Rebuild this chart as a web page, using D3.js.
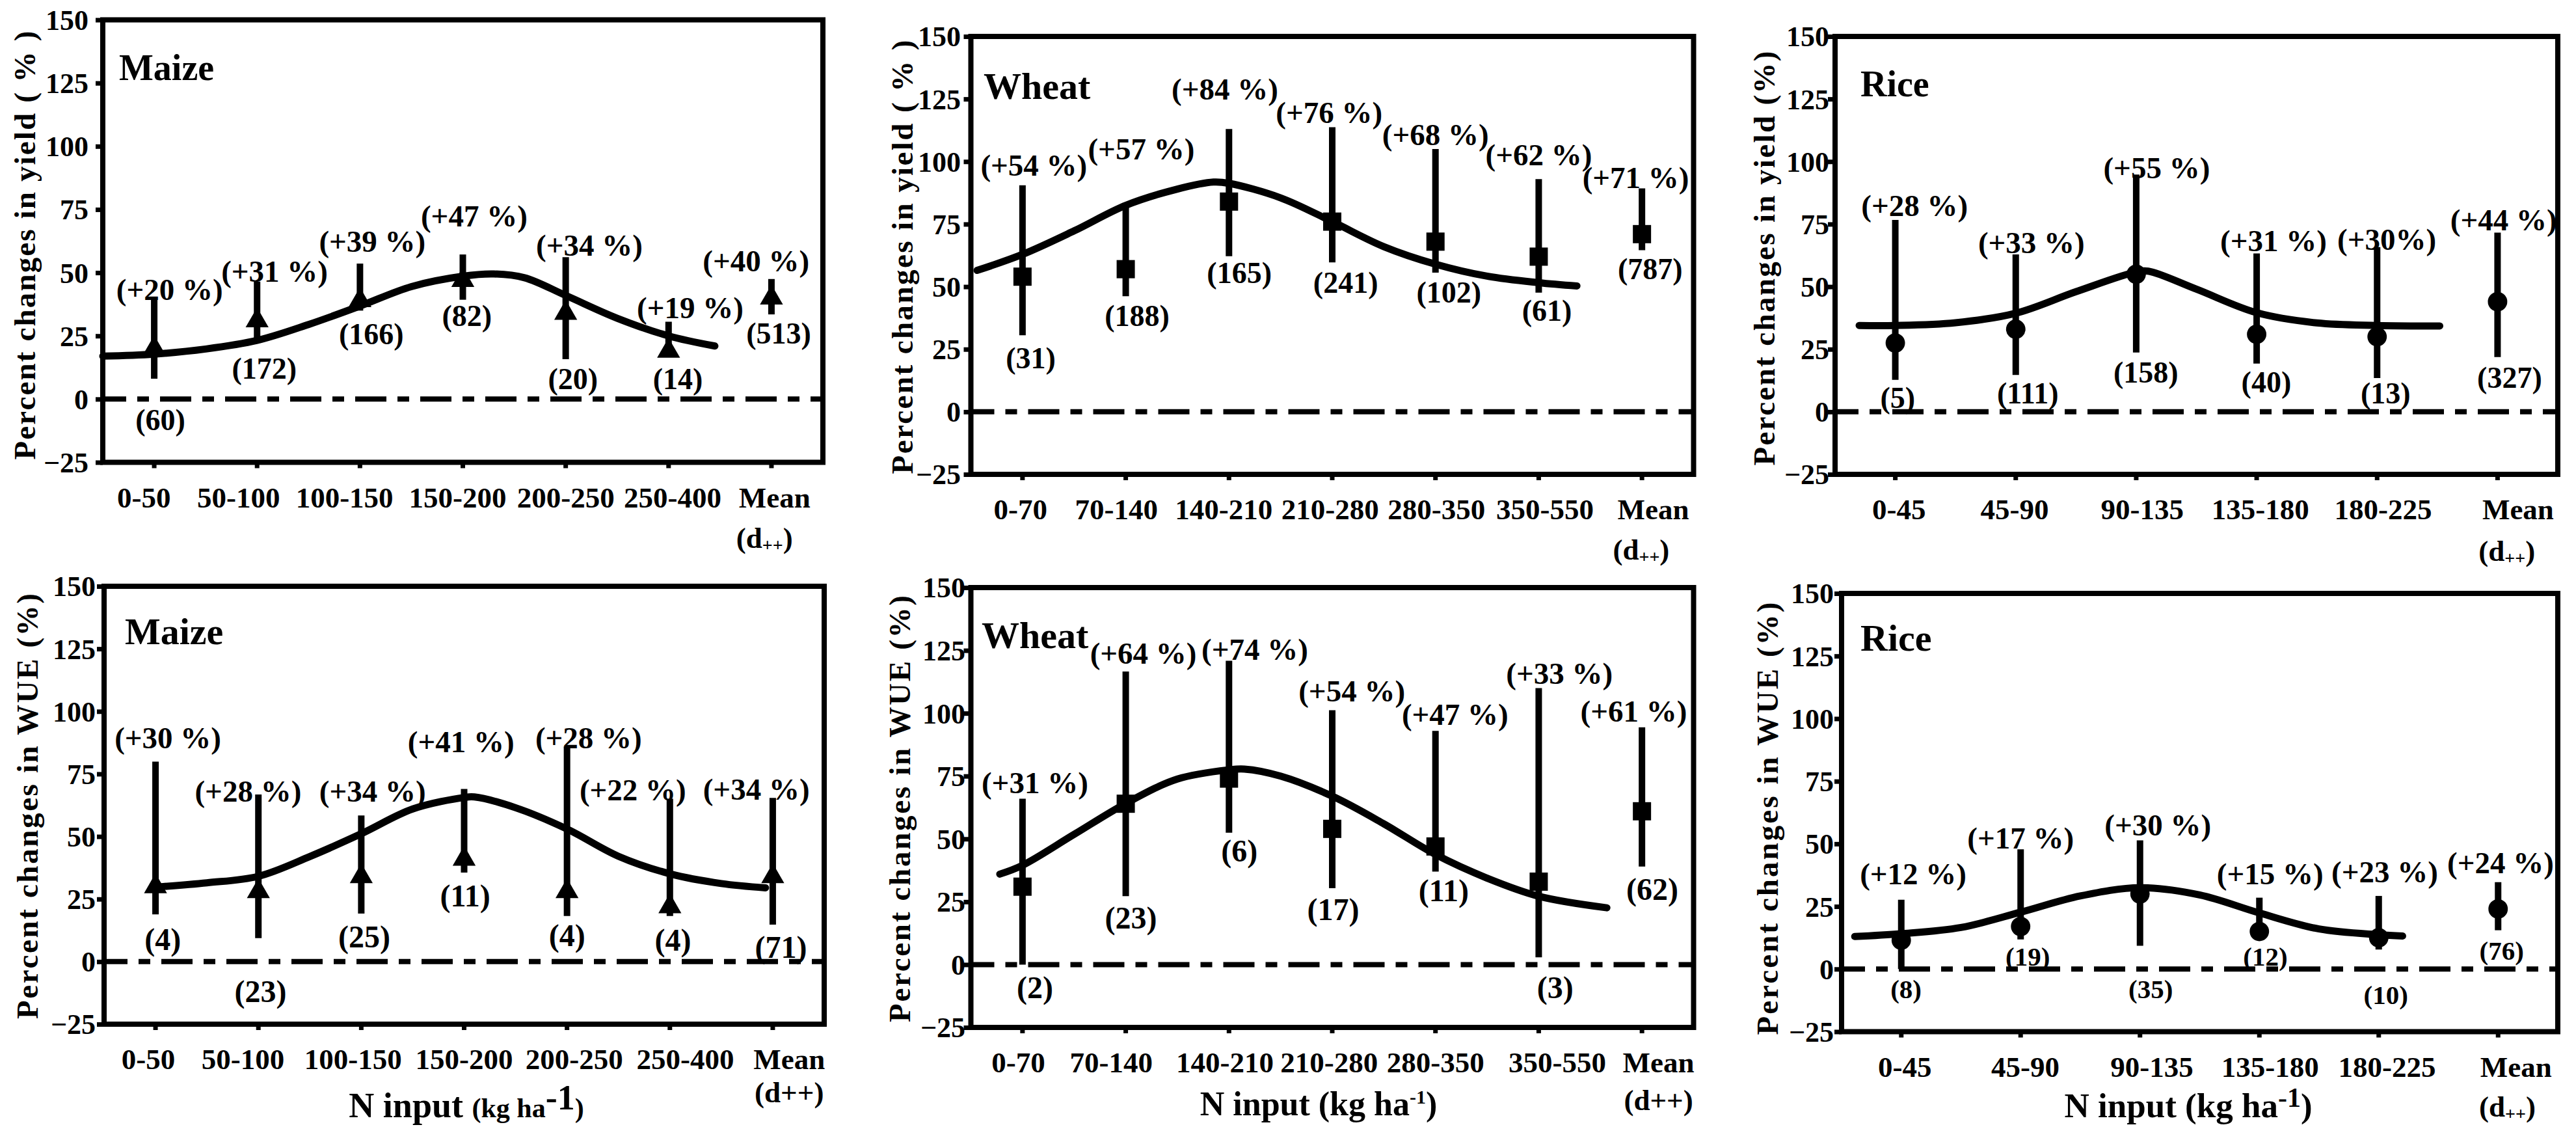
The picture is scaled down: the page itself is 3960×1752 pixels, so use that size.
<!DOCTYPE html>
<html><head><meta charset="utf-8">
<script src="https://cdn.jsdelivr.net/npm/d3@7/dist/d3.min.js"></script>
<style>
html,body{margin:0;padding:0;background:#fff;}
svg text{font-family:"Liberation Serif","Times New Roman",Times,serif;font-weight:bold;fill:#000;}
</style></head><body>
<svg id="chart" width="3960" height="1752" xmlns="http://www.w3.org/2000/svg"></svg>
<script>
// ---------------- DATA ----------------
const yTicks = [-25, 0, 25, 50, 75, 100, 125, 150];

const maizeCats = ["0-50", "50-100", "100-150", "150-200", "200-250", "250-400", "Mean"];
const wheatCats = ["0-70", "70-140", "140-210", "210-280", "280-350", "350-550", "Mean"];
const riceCats  = ["0-45", "45-90", "90-135", "135-180", "180-225", "Mean"];

// Maize – yield
const maizeYieldMean = [20, 31, 39, 47, 34, 19, 40];
const maizeYieldHi   = [39.5, 46.5, 53.6, 57.2, 56.1, 30.6, 47.5];
const maizeYieldLo   = [8.1, 23.6, 35, 39.3, 15.8, 17, 33.5];
const maizeYieldPct  = ["+20 %", "+31 %", "+39 %", "+47 %", "+34 %", "+19 %", "+40 %"];
const maizeYieldN    = [60, 172, 166, 82, 20, 14, 513];
const maizeYieldCurve = [[-0.5,17],[0,17.8],[0.5,19.8],[1,23.2],[1.5,29.5],[2,36.8],[2.5,44.5],[3,48.6],[3.3,49.5],[3.6,48],[4,41],[4.5,32],[5,25],[5.45,21]];
const maizeYieldPctAt = [[0.15,43.3],[0.17,50.6],[0.12,62.3],[0.11,72.3],[0.23,60.8],[0.21,36],[-0.15,54.6]];
const maizeYieldNAt   = [[0.06,-8.3],[0.07,12.1],[0.11,25.6],[0.04,32.8],[0.07,7.9],[0.09,7.9],[0.07,25.9]];
const maizeYieldTickDx = [-0.1, -0.18, -0.15, -0.05, 0, 0.04, 0.03];

// Wheat – yield
const wheatYieldMean = [54, 57, 84, 76, 68, 62, 71];
const wheatYieldHi   = [90.5, 83.5, 113, 113.7, 105, 93, 89.3];
const wheatYieldLo   = [30.6, 46.2, 62.2, 59.7, 55.6, 47.6, 64.6];
const wheatYieldPct  = ["+54 %", "+57 %", "+84 %", "+76 %", "+68 %", "+62 %", "+71 %"];
const wheatYieldN    = [31, 188, 165, 241, 102, 61, 787];
const wheatYieldCurve = [[-0.44,56.5],[0,62.9],[0.5,72.3],[1,82.5],[1.5,89],[1.85,91.8],[2,91.3],[2.5,85.5],[3,76],[3.5,66],[4,59],[4.5,54.2],[5,51.6],[5.37,50.3]];
const wheatYieldPctAt = [[0.11,98.5],[0.15,105],[-0.04,129],[-0.03,119.5],[0,110.8],[0,102.8],[-0.06,93.7]];
const wheatYieldNAt   = [[0.08,21.5],[0.11,38.2],[0.1,55.6],[0.13,51.6],[0.13,47.6],[0.08,40.4],[0.08,57.1]];
const wheatYieldTickDx = [-0.02, -0.09, -0.05, -0.02, 0.01, 0.06, 0.11];

// Rice – yield
const riceYieldMean = [27.5, 33, 55, 31, 30, 44];
const riceYieldHi   = [76.7, 62.9, 94.8, 63.3, 65.8, 71.6];
const riceYieldLo   = [12.8, 14.7, 23.7, 19.3, 13.5, 21.9];
const riceYieldPct  = ["+28 %", "+33 %", "+55 %", "+31 %", "+30%", "+44 %"];
const riceYieldN    = [5, 111, 158, 40, 13, 327];
const riceYieldCurve = [[-0.3,34.5],[0,34.5],[0.5,35.6],[1,39.4],[1.5,48],[2,55.9],[2.1,56.2],[2.5,49],[3,39.6],[3.5,35.5],[4,34.5],[4.52,34.3]];
const riceYieldPctAt = [[0.16,82.5],[0.13,67.5],[0.17,97.4],[0.14,68.4],[0.08,69],[0.05,76.7]];
const riceYieldNAt   = [[0.02,5.5],[0.1,7.4],[0.08,15.7],[0.08,11.8],[0.07,7.4],[0.1,13.5]];
const riceYieldTickDx = [0.03, -0.01, 0.05, 0.03, 0.05, 0.17];

// Maize – WUE
const maizeWueMean = [30, 28, 34, 41, 28, 22, 34];
const maizeWueHi   = [79.9, 66.8, 58.4, 69, 86, 65.1, 65.4];
const maizeWueLo   = [18.9, 9.4, 19.2, 35.6, 18.2, 18.2, 14.8];
const maizeWuePct  = ["+30 %", "+28 %", "+34 %", "+41 %", "+28 %", "+22 %", "+34 %"];
const maizeWueN    = [4, 23, 25, 11, 4, 4, 71];
const maizeWueCurve = [[0,29.8],[0.5,31.5],[1,34.1],[1.5,42],[2,51.1],[2.5,61],[3,65.6],[3.1,65.8],[3.5,61.5],[4,53],[4.5,42.1],[5,35.1],[5.5,31.2],[5.93,29.5]];
const maizeWuePctAt = [[0.12,89.3],[-0.1,68],[0.11,68],[-0.03,87.9],[0.21,89.3],[-0.36,68.5],[-0.16,69]];
const maizeWueNAt   = [[0.07,9],[0.02,-11.9],[0.03,9.9],[0.01,26.4],[0,10.5],[0.03,8.7],[0.08,5.8]];
const maizeWueTickDx = [-0.07, -0.15, -0.08, 0, 0.07, 0.15, 0.16];

// Wheat – WUE
const wheatWueMean = [31, 64, 74, 54, 47, 33, 61];
const wheatWueHi   = [66, 116.6, 120.9, 101.2, 93, 110, 94.4];
const wheatWueLo   = [0, 27.2, 52.5, 30.4, 37, 2.9, 39];
const wheatWuePct  = ["+31 %", "+64 %", "+74 %", "+54 %", "+47 %", "+33 %", "+61 %"];
const wheatWueN    = [2, 23, 6, 17, 11, 3, 62];
const wheatWueCurve = [[-0.22,36],[0,39.5],[0.5,51.8],[1,64.1],[1.5,73.8],[2,77.5],[2.15,77.8],[2.5,75],[3,67],[3.5,56],[4,43.8],[4.5,34.4],[5,27.2],[5.66,22.6]];
const wheatWuePctAt = [[0.12,72.3],[0.17,123.8],[0.25,125.5],[0.19,108.9],[0.19,99.5],[0.2,115.7],[-0.08,100.7]];
const wheatWueNAt   = [[0.12,-9],[0.05,18.5],[0.1,45.3],[0.01,22.1],[0.08,29.4],[0.16,-9],[0.1,30.1]];
const wheatWueTickDx = [-0.04, -0.14, -0.04, -0.03, 0, 0.18, 0.16];

// Rice – WUE
const riceWueMean = [11.5, 17, 30, 15, 12.5, 24];
const riceWueHi   = [27.7, 47.8, 51.4, 28.5, 29.2, 34.7];
const riceWueLo   = [0, 11.8, 9.3, 11.5, 7.8, 15.5];
const riceWuePct  = ["+12 %", "+17 %", "+30 %", "+15 %", "+23 %", "+24 %"];
const riceWueN    = [8, 19, 35, 12, 10, 76];
const riceWueCurve = [[-0.39,13],[0,14.1],[0.5,16.6],[1,22.7],[1.5,29.2],[2,32.5],[2.5,29.6],[3,22.4],[3.5,16],[4,13.7],[4.2,13.2]];
const riceWuePctAt = [[0.1,37.9],[0,52.4],[0.15,57.5],[0.09,37.9],[0.05,38.8],[0.02,42.3]];
const riceWueNAt   = [[0.04,-8.1],[0.06,4.9],[0.09,-8.1],[0.05,4.9],[0.06,-10.3],[0.03,7.4]];
const riceWueTickDx = [0.03, 0.04, 0.1, 0.09, 0.07, 0.15];

// ---------------- PANELS ----------------
const panels = [
  {l:158, r:1265, t:30.5, b:710.5, cats:maizeCats, mean:maizeYieldMean, hi:maizeYieldHi, lo:maizeYieldLo,
   pct:maizeYieldPct, n:maizeYieldN, curve:maizeYieldCurve, pctAt:maizeYieldPctAt, nAt:maizeYieldNAt,
   tickDx:maizeYieldTickDx, dDx:-0.03, line2:62, sub:true, marker:"triangle",
   title:"Maize", tx:183, ty:122.7, tfs:56, ylab:"Percent changes in yield ( % )", ylx:38, yly:377, yll:659,
   ygap:22, nfs:46},
  {l:1492.5, r:2603.5, t:56, b:729, cats:wheatCats, mean:wheatYieldMean, hi:wheatYieldHi, lo:wheatYieldLo,
   pct:wheatYieldPct, n:wheatYieldN, curve:wheatYieldCurve, pctAt:wheatYieldPctAt, nAt:wheatYieldNAt,
   tickDx:wheatYieldTickDx, dDx:0.03, line2:62, sub:true, marker:"square",
   title:"Wheat", tx:1512, ty:152, tfs:58, ylab:"Percent changes in yield ( % )", ylx:1387, yly:395, yll:667,
   ygap:15.5, nfs:46},
  {l:2821, r:3932, t:56, b:729, cats:riceCats, mean:riceYieldMean, hi:riceYieldHi, lo:riceYieldLo,
   pct:riceYieldPct, n:riceYieldN, curve:riceYieldCurve, pctAt:riceYieldPctAt, nAt:riceYieldNAt,
   tickDx:riceYieldTickDx, dDx:0.11, line2:64, sub:true, marker:"circle",
   title:"Rice", tx:2860, ty:148, tfs:56, ylab:"Percent changes in yield (%)", ylx:2711.5, yly:397, yll:637,
   ygap:9, nfs:46},
  {l:160, r:1267, t:901, b:1574, cats:maizeCats, mean:maizeWueMean, hi:maizeWueHi, lo:maizeWueLo,
   pct:maizeWuePct, n:maizeWueN, curve:maizeWueCurve, pctAt:maizeWuePctAt, nAt:maizeWueNAt,
   tickDx:maizeWueTickDx, dDx:0.16, line2:51, sub:false, marker:"triangle",
   title:"Maize", tx:192, ty:990, tfs:58, ylab:"Percent changes in WUE (%)", ylx:42, yly:1239, yll:654,
   ygap:13, nfs:48,
   xtitle:{x:717, y:1717, parts:[["N input ",54,0],["(kg ha",42,0],["-1",54,-12],[")",42,12]]}},
  {l:1492.5, r:2603.5, t:903, b:1579, cats:wheatCats, mean:wheatWueMean, hi:wheatWueHi, lo:wheatWueLo,
   pct:wheatWuePct, n:wheatWueN, curve:wheatWueCurve, pctAt:wheatWuePctAt, nAt:wheatWueNAt,
   tickDx:wheatWueTickDx, dDx:0.16, line2:58, sub:false, marker:"square",
   title:"Wheat", tx:1509, ty:996, tfs:58, ylab:"Percent changes in WUE (%)", ylx:1383, yly:1243, yll:656,
   ygap:8.5, nfs:48,
   xtitle:{x:2027, y:1714, parts:[["N input (kg ha",52,0],["-1",30,-18],[")",52,18]]}},
  {l:2831, r:3932, t:912, b:1585.5, cats:riceCats, mean:riceWueMean, hi:riceWueHi, lo:riceWueLo,
   pct:riceWuePct, n:riceWueN, curve:riceWueCurve, pctAt:riceWuePctAt, nAt:riceWueNAt,
   tickDx:riceWueTickDx, dDx:0.11, line2:61, sub:true, marker:"circle",
   title:"Rice", tx:2860, ty:1000, tfs:58, ylab:"Percent changes in WUE (%)", ylx:2717, yly:1258, yll:665,
   ygap:12, nfs:41,
   xtitle:{x:3364, y:1717, parts:[["N input (kg ha",53,0],["-1",42,-16],[")",53,16]]}}
];

const svg = d3.select("#chart");
svg.append("rect").attr("width",3960).attr("height",1752).attr("fill","#fff");

const markerSymbol = {
  triangle: d3.symbol(d3.symbolTriangle, 540),
  square: d3.symbol(d3.symbolSquare, 784),
  circle: d3.symbol(d3.symbolCircle, 700)
};

function drawPanel(p) {
  const g = svg.append("g");
  const nC = p.cats.length;
  const x = d3.scaleBand().domain(p.cats).range([p.l, p.r]);
  const step = x.step();
  const xi = d3.scaleLinear().domain([-0.5, nC - 0.5]).range([p.l, p.r]);
  const y = d3.scaleLinear().domain([-25, 150]).range([p.b, p.t]);

  // y axis
  const ya = g.append("g").attr("transform", `translate(${p.l},0)`)
    .call(d3.axisLeft(y).tickValues(yTicks).tickSize(11).tickPadding(p.ygap - 11).tickFormat(d3.format("d")));
  ya.select(".domain").remove();
  ya.selectAll(".tick line").attr("stroke", "#000").attr("stroke-width", 7);
  ya.selectAll(".tick text").attr("font-size", 44).attr("fill", "#000").attr("dy", "0.34em");

  // x axis
  const xa = g.append("g").attr("transform", `translate(0,${p.b})`)
    .call(d3.axisBottom(x).tickSize(9).tickPadding(0));
  xa.select(".domain").remove();
  xa.selectAll(".tick line").attr("stroke", "#000").attr("stroke-width", 7);
  xa.selectAll(".tick text").each(function(d, i) {
    const t = d3.select(this);
    t.attr("x", p.tickDx[i] * step).attr("y", 54).attr("dy", null)
     .attr("dominant-baseline", "central").attr("font-size", 45).attr("fill", "#000");
    if (d === "Mean") {
      t.text(null);
      t.append("tspan").attr("x", p.tickDx[i] * step).text("Mean");
      if (p.sub) {
        t.append("tspan").attr("x", p.dDx * step - 6).attr("dy", p.line2).text("(d");
        t.append("tspan").attr("font-size", 28).attr("dy", 10).text("++");
        t.append("tspan").attr("dy", -10).text(")");
      } else {
        t.append("tspan").attr("x", p.dDx * step).attr("dy", p.line2).text("(d++)");
      }
    }
  });

  // zero line (dash-dot)
  g.append("line").attr("x1", p.l).attr("x2", p.r).attr("y1", y(0)).attr("y2", y(0))
    .attr("stroke", "#000").attr("stroke-width", 8)
    .attr("stroke-dasharray", "48 17 18 17").attr("stroke-dashoffset", 12);

  // fitted curve
  g.append("path").datum(p.curve)
    .attr("d", d3.line().x(d => xi(d[0])).y(d => y(d[1])).curve(d3.curveCatmullRom.alpha(0.5)))
    .attr("fill", "none").attr("stroke", "#000").attr("stroke-width", 11).attr("stroke-linecap", "round");

  // error bars
  g.selectAll(".eb").data(p.cats).enter().append("line")
    .attr("x1", (d, i) => xi(i)).attr("x2", (d, i) => xi(i))
    .attr("y1", (d, i) => y(p.lo[i])).attr("y2", (d, i) => y(p.hi[i]))
    .attr("stroke", "#000").attr("stroke-width", 10);

  // markers
  g.selectAll(".mk").data(p.cats).enter().append("path")
    .attr("d", markerSymbol[p.marker])
    .attr("transform", (d, i) => `translate(${xi(i)},${y(p.mean[i])})`)
    .attr("fill", "#000");

  // percent labels
  g.selectAll(".pl").data(p.pct).enter().append("text")
    .attr("x", (d, i) => xi(i + p.pctAt[i][0])).attr("y", (d, i) => y(p.pctAt[i][1]))
    .attr("text-anchor", "middle").attr("dominant-baseline", "central").attr("font-size", 47)
    .text(d => "(" + d + ")");

  // n labels
  g.selectAll(".nl").data(p.n).enter().append("text")
    .attr("x", (d, i) => xi(i + p.nAt[i][0])).attr("y", (d, i) => y(p.nAt[i][1]))
    .attr("text-anchor", "middle").attr("dominant-baseline", "central").attr("font-size", p.nfs)
    .text(d => "(" + d + ")");

  // crop title
  g.append("text").attr("x", p.tx).attr("y", p.ty).attr("font-size", p.tfs).text(p.title);

  // y label
  g.append("text").attr("transform", `translate(${p.ylx},${p.yly}) rotate(-90)`)
    .attr("text-anchor", "middle").attr("dominant-baseline", "central").attr("font-size", 47)
    .attr("textLength", p.yll).attr("lengthAdjust", "spacing")
    .text(p.ylab);

  // x title
  if (p.xtitle) {
    const t = g.append("text").attr("x", p.xtitle.x).attr("y", p.xtitle.y).attr("text-anchor", "middle");
    p.xtitle.parts.forEach(pt => {
      t.append("tspan").attr("font-size", pt[1]).attr("dy", pt[2]).text(pt[0]);
    });
  }

  // frame
  g.append("rect").attr("x", p.l).attr("y", p.t).attr("width", p.r - p.l).attr("height", p.b - p.t)
    .attr("fill", "none").attr("stroke", "#000").attr("stroke-width", 8);
}

panels.forEach(drawPanel);
</script>
</body></html>
